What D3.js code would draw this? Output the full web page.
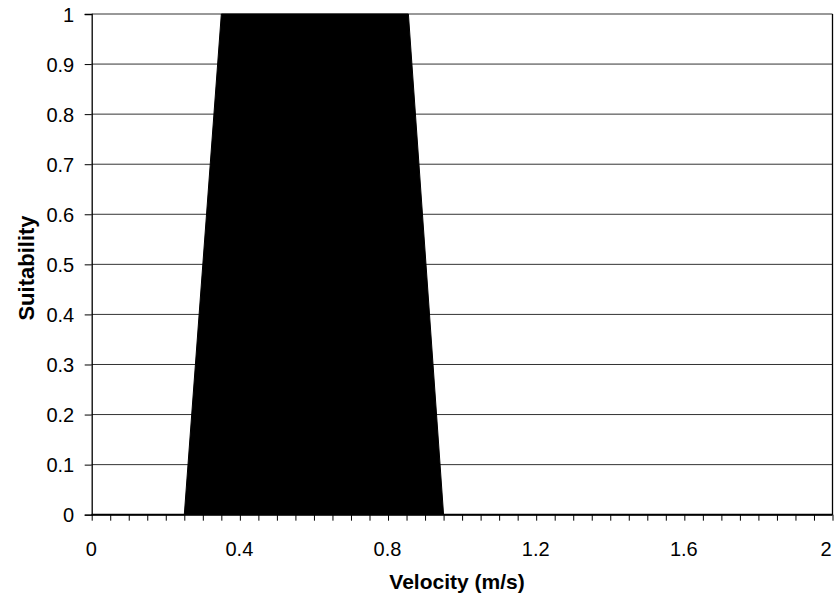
<!DOCTYPE html>
<html><head><meta charset="utf-8">
<script src="https://cdn.jsdelivr.net/npm/d3@7"></script>
<style>body{margin:0;background:#fff}svg{display:block}text{font-family:"Liberation Sans",Arial,sans-serif}</style>
</head><body>
<svg id="c" width="837" height="603"></svg>
<script>
const velocity = [0, 0.25, 0.35, 0.855, 0.95, 2];
const suitability = [0, 0, 1, 1, 0, 0];
const xTickLabels = [0, 0.4, 0.8, 1.2, 1.6, 2];
const yTickLabels = [0, 0.1, 0.2, 0.3, 0.4, 0.5, 0.6, 0.7, 0.8, 0.9, 1];

const svg = d3.select("#c");
const L = 91.7, R = 832.5, T = 14, B = 514.7;
const x = d3.scaleLinear().domain([0, 2]).range([L, R]);
const y = d3.scaleLinear().domain([0, 1]).range([B, T]);
const FONT = '"Liberation Sans",Arial,sans-serif';

// gridlines
svg.append("g").selectAll("line").data(yTickLabels.filter(d => d > 0)).join("line")
  .attr("x1", L).attr("x2", R).attr("y1", d => y(d)).attr("y2", d => y(d))
  .attr("stroke", "#333").attr("stroke-width", 1);

// right border
svg.append("line").attr("x1", R).attr("x2", R).attr("y1", T).attr("y2", B)
  .attr("stroke", "#000").attr("stroke-width", 1.3);

// area
const pts = velocity.map((v, i) => [v, suitability[i]]);
svg.append("path").datum(pts)
  .attr("d", d3.area().x(d => x(d[0])).y0(y(0)).y1(d => y(d[1])))
  .attr("fill", "#000").attr("stroke", "#000").attr("stroke-width", 1);

// y axis
const yAxis = svg.append("g").attr("transform", `translate(${L},0)`)
  .call(d3.axisLeft(y).tickValues(yTickLabels).tickFormat(d3.format("")).tickSize(7).tickPadding(10.5));
yAxis.select(".domain").attr("stroke", "#000").attr("stroke-width", 1.3);
yAxis.selectAll(".tick line").attr("stroke", "#000");
yAxis.selectAll(".tick text").attr("font-size", 20).attr("fill", "#000").attr("font-family", FONT).attr("dy", "0.36em");

// x axis
const minor = d3.range(0, 41).map(i => i * 0.05);
const xAxis = svg.append("g").attr("transform", `translate(0,${B})`)
  .call(d3.axisBottom(x).tickValues(minor).tickSize(6).tickFormat(d => {
    const m = xTickLabels.find(t => Math.abs(t - d) < 1e-9);
    return m === undefined ? "" : d3.format("")(m);
  }).tickPadding(21));
xAxis.select(".domain").attr("stroke", "#000").attr("stroke-width", 2).attr("d", `M${L},0H${R}`);
xAxis.selectAll(".tick line").attr("stroke", "#000");
xAxis.selectAll(".tick text").attr("font-size", 20).attr("fill", "#000").attr("font-family", FONT)
  .attr("dx", d => Math.abs(d - 2) < 1e-9 ? -7 : -1);

// titles
svg.append("text").attr("x", 457).attr("y", 589).attr("text-anchor", "middle")
  .attr("font-size", 21).attr("font-weight", "bold").attr("fill", "#000").text("Velocity (m/s)");
svg.append("text").attr("transform", `translate(33.5,268) rotate(-90)`).attr("text-anchor", "middle")
  .attr("font-size", 22).attr("font-weight", "bold").attr("fill", "#000").text("Suitability");
</script>
</body></html>
